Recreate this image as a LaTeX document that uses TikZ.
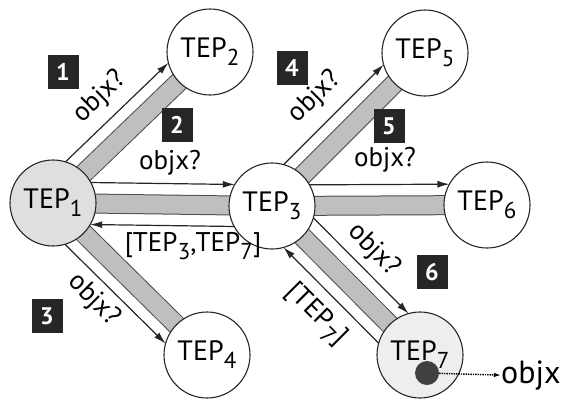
\documentclass[tikz,border=0pt]{standalone}
\usepackage{fontspec}
\setmainfont{PT Sans}
\usetikzlibrary{calc,arrows.meta,backgrounds}
\newcommand{\tepsub}[1]{TEP\kern0.3pt\raisebox{-8pt}{\fontsize{23}{23}\selectfont #1}}
\begin{document}
\begin{tikzpicture}[x=1pt,y=-1pt,
  tep/.style={circle, draw=black!85, line width=1.1pt, minimum size=86pt, inner sep=0pt, fill=white, font=\fontsize{28}{28}\selectfont},
  lbl/.style={font=\fontsize{27}{27}\selectfont, inner sep=0pt},
  numbox/.style={fill=black!85, text=white, minimum width=31pt, minimum height=34pt, inner sep=0pt, font=\fontsize{24}{24}\selectfont\bfseries},
  bandst/.style={double=gray!50, double distance=18pt, line width=1pt, draw=black!70},
  arr/.style={line width=1.2pt, draw=black!85, -{Latex[length=12pt,width=7pt]}, shorten <=37.5pt, shorten >=37.5pt}
]
\useasboundingbox (0,0) rectangle (572,399);
% nodes
\node[tep, fill=gray!25] (t1) at (53,203) {\tepsub{1}};
\node[tep] (t2) at (210,52) {\tepsub{2}};
\node[tep] (t3) at (272,206) {\tepsub{3}};
\node[tep] (t4) at (207,355) {\tepsub{4}};
\node[tep] (t5) at (425,53) {\tepsub{5}};
\node[tep] (t6) at (487,205) {\tepsub{6}};
\node[tep, fill=gray!13] (t7) at (420,355) {\tepsub{7}};
% bands
\begin{scope}[on background layer]
\foreach \a/\b in {t1/t2,t1/t3,t1/t4,t3/t5,t3/t6,t3/t7}
  \draw[bandst] (\a.center) -- (\b.center);
\end{scope}
% arrows
\draw[arr] ($(t1.center)!21pt!90:(t2.center)$) -- ($(t2.center)!21pt!-90:(t1.center)$);
\draw[arr] ($(t1.center)!21pt!90:(t3.center)$) -- ($(t3.center)!21pt!-90:(t1.center)$);
\draw[arr] ($(t3.center)!21pt!90:(t1.center)$) -- ($(t1.center)!21pt!-90:(t3.center)$);
\draw[arr] ($(t1.center)!21pt!-90:(t4.center)$) -- ($(t4.center)!21pt!90:(t1.center)$);
\draw[arr] ($(t3.center)!21pt!90:(t5.center)$) -- ($(t5.center)!21pt!-90:(t3.center)$);
\draw[arr] ($(t3.center)!21pt!90:(t6.center)$) -- ($(t6.center)!21pt!-90:(t3.center)$);
\draw[arr] ($(t3.center)!21pt!90:(t7.center)$) -- ($(t7.center)!21pt!-90:(t3.center)$);
\draw[arr] ($(t7.center)!21pt!90:(t3.center)$) -- ($(t3.center)!21pt!-90:(t7.center)$);
% labels
\node[lbl, rotate=44] (l1) at (100,97) {objx?};
\node[lbl] (l2) at (170,163) {objx?};
\node[lbl] (l3) at (193,246) {[\tepsub{3},\tepsub{7}]};
\node[lbl, rotate=-45] (l4) at (94,300) {objx?};
\node[lbl, rotate=45] (l5) at (315,97) {objx?};
\node[lbl] (l6) at (385,160) {objx?};
\node[lbl, rotate=-45] (l7) at (374,250) {objx?};
\node[lbl, rotate=-45] (l8) at (316,315) {[\tepsub{7}]};
% number boxes
\node[numbox] (b1) at (63,72) {1};
\node[numbox] (b2) at (177,125) {2};
\node[numbox] (b3) at (47,316) {3};
\node[numbox] (b4) at (292,68) {4};
\node[numbox] (b5) at (389,126) {5};
\node[numbox] (b6) at (432,272) {6};
% object
\node[circle, fill=black!75, minimum size=24pt, inner sep=0pt] (dot) at (427,373) {};
\node[font=\fontsize{32}{32}\selectfont, inner sep=0pt, anchor=west] (ox) at (501,376) {objx};
\draw[densely dotted, line width=1.4pt, -{Latex[length=7pt,width=4.5pt]}] (dot) -- (ox);
\end{tikzpicture}
\end{document}
